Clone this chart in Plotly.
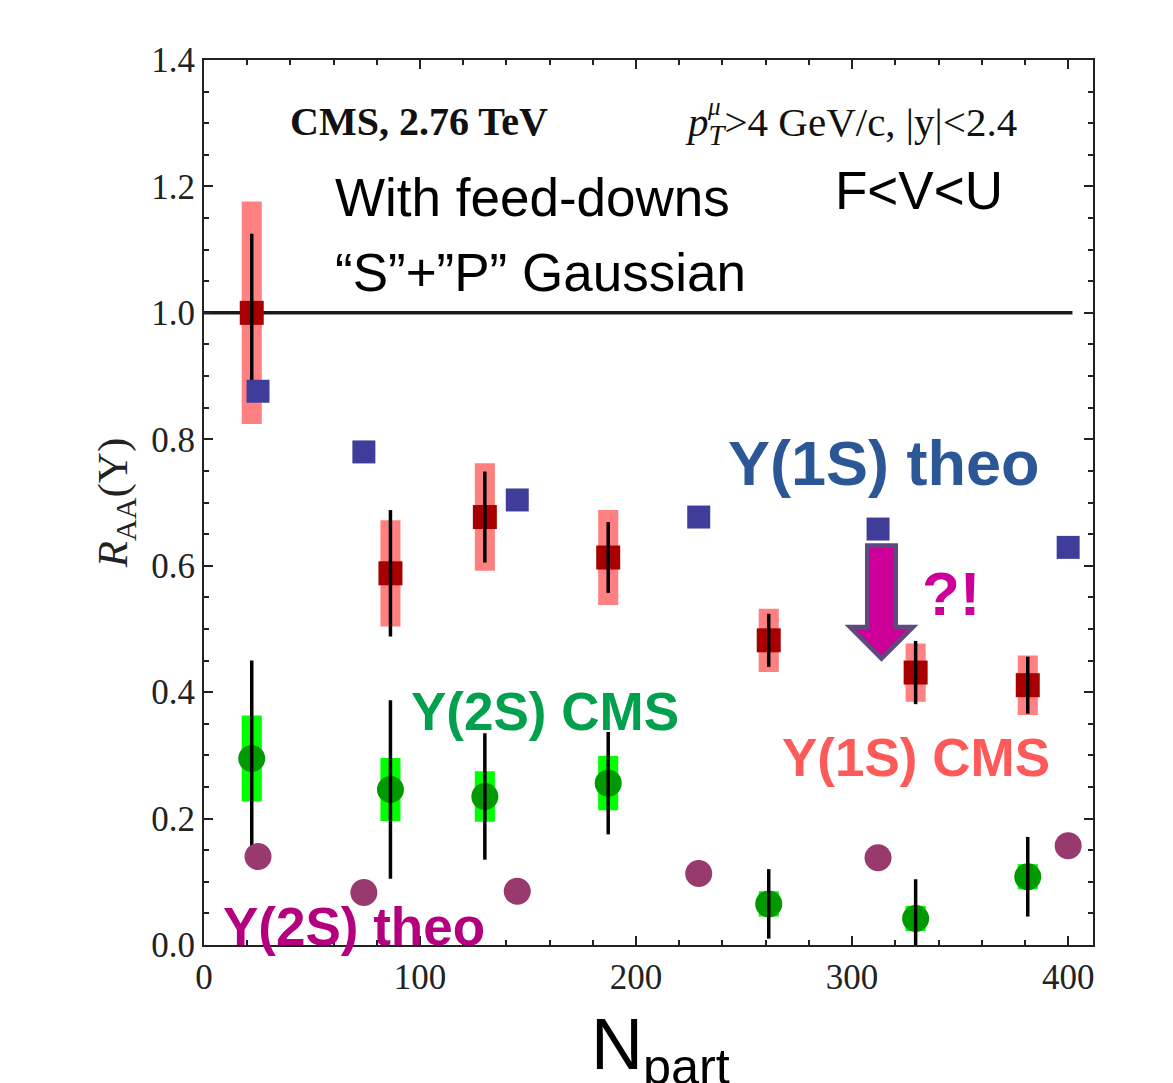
import numpy as np
import plotly.graph_objects as go

# --- CMS measurements (Npart, R_AA, stat, syst) ---
cms_npart = [22.1, 86.3, 130.0, 187.1, 261.4, 329.4, 381.3]

y1s_cms = [1.00, 0.588, 0.677, 0.613, 0.482, 0.431, 0.411]
y1s_stat = [0.125, 0.100, 0.072, 0.056, 0.042, 0.050, 0.045]
y1s_syst = [0.176, 0.084, 0.085, 0.075, 0.050, 0.046, 0.047]

y2s_cms = [0.295, 0.246, 0.235, 0.256, 0.065, 0.042, 0.108]
y2s_stat = [0.155, 0.141, 0.100, 0.081, 0.055, 0.062, 0.063]
y2s_syst = [0.068, 0.050, 0.040, 0.043, 0.020, 0.020, 0.020]

# --- model predictions ---
theo_npart = [25, 74, 145, 229, 312, 400]
y1s_theo = [0.876, 0.780, 0.704, 0.677, 0.658, 0.629]
y2s_theo = [0.140, 0.083, 0.085, 0.113, 0.138, 0.157]

# unity reference
ref_x = [0, 402]
ref_y = [1.0, 1.0]

# axis ticks
x_ticks = [0, 100, 200, 300, 400]
y_ticks = [0.0, 0.2, 0.4, 0.6, 0.8, 1.0, 1.2, 1.4]

SYS_W = 9.3  # width of systematic boxes, in Npart units

fig = go.Figure()

# reference line at R_AA = 1
fig.add_trace(go.Scatter(x=ref_x, y=ref_y, mode="lines",
                         line=dict(color="#1a1a1a", width=3.5), hoverinfo="skip"))

# systematic boxes
fig.add_trace(go.Bar(x=cms_npart, y=2 * np.array(y1s_syst),
                     base=np.array(y1s_cms) - np.array(y1s_syst),
                     width=SYS_W, marker=dict(color="#ff8080", line=dict(width=0))))
fig.add_trace(go.Bar(x=cms_npart, y=2 * np.array(y2s_syst),
                     base=np.array(y2s_cms) - np.array(y2s_syst),
                     width=SYS_W, marker=dict(color="#00ff00", line=dict(width=0))))

# CMS central values
fig.add_trace(go.Scatter(x=cms_npart, y=y1s_cms, mode="markers",
                         marker=dict(symbol="square", size=24, color="#a80000")))
fig.add_trace(go.Scatter(x=cms_npart, y=y2s_cms, mode="markers",
                         marker=dict(symbol="circle", size=27, color="#009a00")))

# statistical error bars on top of the markers
for vals, errs in [(y1s_cms, y1s_stat), (y2s_cms, y2s_stat)]:
    fig.add_trace(go.Scatter(x=cms_npart, y=vals, mode="markers",
                             marker=dict(size=1, opacity=0),
                             error_y=dict(type="data", array=errs, color="black",
                                          thickness=3.5, width=0)))

# model predictions
fig.add_trace(go.Scatter(x=theo_npart, y=y1s_theo, mode="markers",
                         marker=dict(symbol="square", size=23, color="#403d9a")))
fig.add_trace(go.Scatter(x=theo_npart, y=y2s_theo, mode="markers",
                         marker=dict(symbol="circle", size=27, color="#983a6e")))

# downward arrow
ax_c, shaft, head = 313.6, 6.6, 14.6
y_top, y_head, y_tip = 0.632, 0.503, 0.453
arrow_path = (f"M {ax_c-shaft},{y_top} L {ax_c+shaft},{y_top} L {ax_c+shaft},{y_head} "
              f"L {ax_c+head},{y_head} L {ax_c},{y_tip} L {ax_c-head},{y_head} "
              f"L {ax_c-shaft},{y_head} Z")
fig.add_shape(type="path", path=arrow_path, xref="x", yref="y",
              fillcolor="#cc0099", line=dict(color="#5f4a7e", width=4.5))

serif = "Liberation Serif"
sans = "Liberation Sans"


def label(text, x, y, size, color="black", family=sans, anchor="left"):
    fig.add_annotation(x=x, y=y, xref="x", yref="y", text=text, showarrow=False,
                       xanchor=anchor, yanchor="middle",
                       font=dict(family=family, size=size, color=color))


label("<b>CMS, 2.76 TeV</b>", 38.8, 1.302, 40, "#111", serif)
label("<i>p</i><sub><i>T</i></sub>>4 GeV/c, |y|<2.4", 221.5, 1.297, 41, "#111", serif)
label("<i>μ</i>", 232.0, 1.326, 25, "#111", serif)
label("With feed-downs", 59.5, 1.182, 53)
label("“S”+”P” Gaussian", 59.5, 1.064, 53)
label("F<V<U", 291.0, 1.194, 53)
label("<b>Υ(1S) theo</b>", 241.5, 0.763, 63, "#2b5797")
label("<b>Υ(2S) CMS</b>", 95.0, 0.370, 53, "#00a04c")
label("<b>Υ(1S) CMS</b>", 266.5, 0.296, 53, "#ff5a5a")
label("<b>Υ(2S) theo</b>", 8.0, 0.030, 53, "#b4007f")
label("<b>?!</b>", 331.5, 0.556, 62, "#cc0099")

# x-axis title, set below the tick labels
fig.add_annotation(x=0.514, y=-0.064, xref="paper", yref="paper",
                   text="N<sub>part</sub>", showarrow=False,
                   xanchor="center", yanchor="top",
                   font=dict(family=sans, size=72, color="black"))

axis_common = dict(showline=True, linecolor="#222", linewidth=2, mirror="allticks",
                   ticks="inside", ticklen=9, tickwidth=2, tickcolor="#222",
                   showgrid=False, zeroline=False, automargin=False,
                   tickfont=dict(family=serif, size=35, color="#222"))

fig.update_xaxes(range=[0, 411.5], tickvals=x_ticks,
                 minor=dict(dtick=20, ticks="inside", ticklen=5, tickwidth=1.5,
                            tickcolor="#222", showgrid=False),
                 **axis_common)
fig.update_yaxes(range=[0, 1.4], tickvals=y_ticks, tickformat=".1f",
                 minor=dict(dtick=0.05, ticks="inside", ticklen=5, tickwidth=1.5,
                            tickcolor="#222", showgrid=False),
                 title=dict(text="<i>R</i><sub>AA</sub>(Υ)", standoff=10,
                            font=dict(family=serif, size=43, color="#222")),
                 **axis_common)

fig.update_layout(width=1173, height=1083, showlegend=False, barmode="overlay",
                  plot_bgcolor="white", paper_bgcolor="white",
                  margin=dict(l=204, r=80, t=60, b=138))

fig.write_html("out.html")
